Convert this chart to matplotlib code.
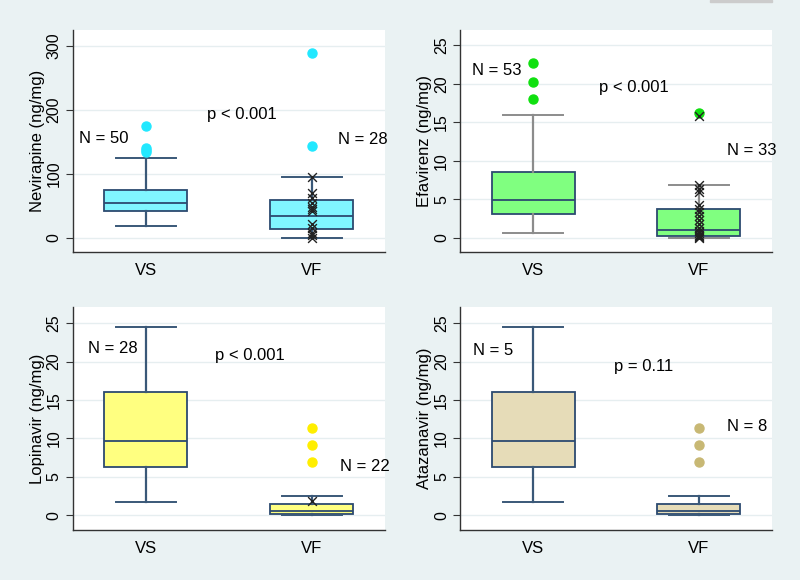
import matplotlib.pyplot as plt
from matplotlib.patches import Rectangle

plt.rcParams['font.family'] = ['Liberation Sans', 'DejaVu Sans']
plt.rcParams['font.size'] = 11.5

groups = ['VS', 'VF']
drugs = ['Nevirapine (ng/mg)', 'Efavirenz (ng/mg)', 'Lopinavir (ng/mg)', 'Atazanavir (ng/mg)']

# box summaries per drug: [VS, VF] -> (low whisker, q1, median, q3, high whisker)
nvp_box = [(19, 42, 55, 75.5, 125.5), (0, 13.5, 34, 60, 96)]
efv_box = [(0.65, 3.1, 4.85, 8.5, 15.9), (0, 0.26, 1.0, 3.68, 6.9)]
lpv_box = [(1.8, 6.3, 9.7, 16.1, 24.5), (0, 0.17, 0.6, 1.43, 2.47)]
atv_box = [(1.8, 6.3, 9.7, 16.1, 24.5), (0, 0.17, 0.6, 1.43, 2.47)]

nvp_out = [[175, 141, 138, 135], [289, 143]]
efv_out = [[22.7, 20.2, 18.0], [16.2]]
lpv_out = [[], [11.3, 9.1, 6.9]]
atv_out = [[], [11.3, 9.1, 6.9]]

# individual VF values marked with crosses
nvp_x = [96, 70, 63, 55, 48, 45, 42, 22, 15, 8, 5, 0]
efv_x = [15.8, 6.8, 6.3, 6.0, 4.3, 3.7, 3.3, 2.8, 2.3, 1.8, 1.3, 0.9, 0.6, 0.4, 0.2, 0.1, 0]
lpv_x = [1.87]
atv_x = []

n_labels = [('N = 50', 'N = 28'), ('N = 53', 'N = 33'), ('N = 28', 'N = 22'), ('N = 5', 'N = 8')]
p_labels = ['p < 0.001', 'p < 0.001', 'p < 0.001', 'p = 0.11']

# text anchors (x in category units, y in data units)
n_pos = [((0.60, 156), (2.16, 154)), ((0.63, 21.7), (2.17, 11.3)),
         ((0.65, 21.7), (2.17, 6.3)), ((0.64, 21.5), (2.17, 11.5))]
p_pos = [(1.37, 193), (1.40, 19.5), (1.415, 20.8), (1.49, 19.3)]

yticks = [[0, 100, 200, 300], [0, 5, 10, 15, 20, 25], [0, 5, 10, 15, 20, 25], [0, 5, 10, 15, 20, 25]]
ylims = [(-22, 325), (-1.86, 27.0), (-1.9, 27.1), (-1.9, 27.1)]

fills = ['#80f6ff', '#80ff80', '#ffff80', '#e6dcb8']
dots = ['#22e8ff', '#10e010', '#ffee00', '#c8b874']
whisk = ['#3a5878', '#8c8c8c', '#3a5878', '#3a5878']
edge = '#2c4a70'
bg = '#eaf2f3'

boxes = [nvp_box, efv_box, lpv_box, atv_box]
outs = [nvp_out, efv_out, lpv_out, atv_out]
crosses = [nvp_x, efv_x, lpv_x, atv_x]

fig = plt.figure(figsize=(8, 5.8), dpi=100, facecolor=bg)
fig.patches.append(Rectangle((710 / 800, 1 - 2 / 580), 62 / 800, 2 / 580,
                             transform=fig.transFigure, color='#cccccc', zorder=0))

rects = [(0.0909, 0.5655, 0.39, 0.3828), (0.575, 0.5655, 0.39, 0.3828),
         (0.0909, 0.0862, 0.39, 0.3845), (0.575, 0.0862, 0.39, 0.3845)]

for k in range(4):
    ax = fig.add_axes(rects[k])
    ax.set_facecolor('white')
    stats = []
    for g in range(2):
        lo, q1, med, q3, hi = boxes[k][g]
        stats.append(dict(whislo=lo, q1=q1, med=med, q3=q3, whishi=hi, fliers=outs[k][g]))
    ax.bxp(stats, positions=[1, 2], widths=0.5, patch_artist=True,
           boxprops=dict(facecolor=fills[k], edgecolor=edge, linewidth=1.3),
           medianprops=dict(color=edge, linewidth=1.3),
           whiskerprops=dict(color=whisk[k], linewidth=1.6),
           capprops=dict(color=whisk[k], linewidth=1.4),
           capwidths=0.36,
           flierprops=dict(marker='o', markerfacecolor=dots[k], markeredgecolor=dots[k],
                           markersize=6.5))
    if crosses[k]:
        ax.scatter([2] * len(crosses[k]), crosses[k], marker='x', color='#222222',
                   s=40, linewidths=1.0, zorder=5)

    ax.set_xlim(0.56, 2.44)
    ax.set_ylim(*ylims[k])
    ax.set_xticks([1, 2])
    ax.set_xticklabels(groups, fontsize=12)
    ax.tick_params(axis='x', length=0, pad=8)
    ax.set_yticks(yticks[k])
    ax.set_yticklabels([str(t) for t in yticks[k]], rotation=90, va='center', fontsize=11.5)
    ax.tick_params(axis='y', length=5, color='#333333', pad=3)
    ax.yaxis.grid(True, color='#e6eef0', linewidth=1.0)
    ax.set_axisbelow(True)
    ax.set_ylabel(drugs[k], fontsize=12, labelpad=1)
    for s in ['top', 'right']:
        ax.spines[s].set_visible(False)
    for s in ['left', 'bottom']:
        ax.spines[s].set_color('#333333')
        ax.spines[s].set_linewidth(1.0)

    (x1, y1), (x2, y2) = n_pos[k]
    ax.text(x1, y1, n_labels[k][0], fontsize=12, va='center', ha='left')
    ax.text(x2, y2, n_labels[k][1], fontsize=12, va='center', ha='left', clip_on=False)
    ax.text(p_pos[k][0], p_pos[k][1], p_labels[k], fontsize=12, va='center', ha='left')

fig.savefig('out.png', dpi=100, facecolor=bg)
